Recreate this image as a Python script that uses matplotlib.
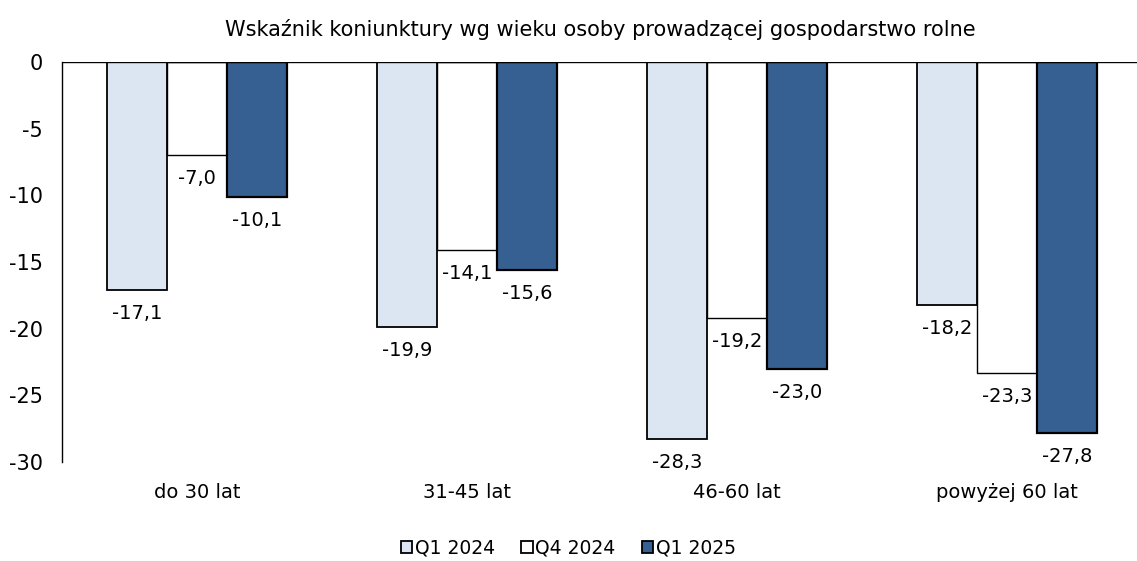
import matplotlib
matplotlib.use("Agg")
import matplotlib.pyplot as plt
from matplotlib.patches import Patch
import numpy as np

categories = ["do 30 lat", "31-45 lat", "46-60 lat", "powyżej 60 lat"]
series_names = ["Q1 2024", "Q4 2024", "Q1 2025"]
q1_2024 = [-17.1, -19.9, -28.3, -18.2]
q4_2024 = [-7.0, -14.1, -19.2, -23.3]
q1_2025 = [-10.1, -15.6, -23.0, -27.8]
yticks = [0, -5, -10, -15, -20, -25, -30]

colors = ["#DCE6F2", "#FFFFFF", "#376092"]
edge_widths = [1.3, 1.0, 1.6]
plt.rcParams['font.family'] = ['DejaVu Sans']

fig = plt.figure(figsize=(11.37, 5.61), dpi=100)
W, H = 1137, 561
left, right = 62, 1137
top, bottom = 62, 462
ax = fig.add_axes([left / W, 1 - bottom / H, (right - left) / W, (bottom - top) / H])

x = np.arange(len(categories))
bw = 60 / 270
data = [q1_2024, q4_2024, q1_2025]
for i, (vals, c, lw) in enumerate(zip(data, colors, edge_widths)):
    pos = x + (i - 1) * bw
    ax.bar(pos, vals, width=bw, color=c, edgecolor="black", linewidth=lw, zorder=3)
    for p, v in zip(pos, vals):
        ax.annotate(f"{v:.1f}".replace(".", ","), (p, v), xytext=(0, -10),
                    textcoords="offset points", ha="center", va="top", fontsize=14)

ax.set_ylim(-30, 0)
ax.set_xlim(-0.5, 3.5 - 5 / 270)
ax.set_yticks(yticks)
ax.set_yticklabels([str(t) for t in yticks], fontsize=15)
ax.tick_params(axis="y", length=0, pad=14)
ax.tick_params(axis="x", length=0)
ax.set_xticks([])
for xi, cat in zip(x, categories):
    ax.text(xi, -32.25, cat, ha="center", va="center", fontsize=14, clip_on=False)

ax.spines["top"].set_visible(False)
ax.spines["right"].set_visible(False)
ax.spines["bottom"].set_visible(False)
ax.spines["left"].set_linewidth(1.0)
ax.axhline(0, color="black", linewidth=1.0, zorder=4)

fig.text(600 / W, 1 - 30 / H, "Wskaźnik koniunktury wg wieku osoby prowadzącej gospodarstwo rolne",
         ha="center", va="center", fontsize=15)

handles = [Patch(facecolor=c, edgecolor="black", linewidth=1.3) for c in colors]
fig.legend(handles, series_names, loc="center", bbox_to_anchor=(0.5, 1 - 548 / H),
           ncol=3, frameon=False, fontsize=13.5, handlelength=0.6, handleheight=0.6,
           handletextpad=0.15, columnspacing=1.4)

fig.savefig("out.png", dpi=100)
